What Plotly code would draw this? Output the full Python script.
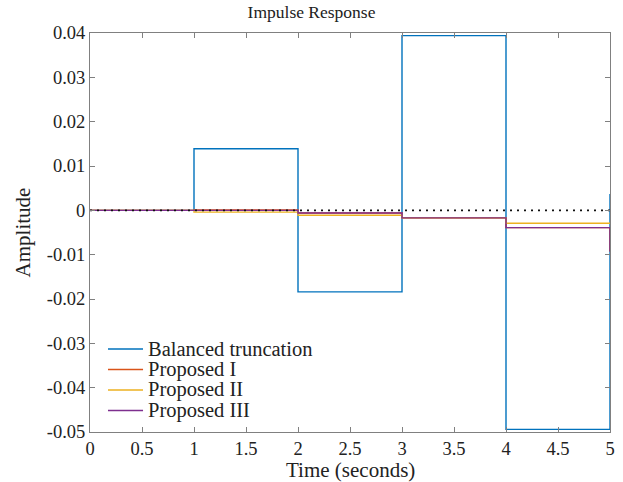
import plotly.graph_objects as go

t = [0, 1, 2, 3, 4, 5]
balanced = [0.0, 0.0139, -0.0184, 0.0394, -0.0494, 0.0037]
proposed1 = [0.0, 0.0001, -0.0006, -0.0017, -0.0039, -0.0093]
proposed2 = [0.0, -0.0004, -0.0011, -0.0017, -0.0029, -0.0031]
proposed3 = [0.0, 0.0000, -0.0006, -0.0017, -0.0039, -0.0093]

x_ticks = [0, 0.5, 1, 1.5, 2, 2.5, 3, 3.5, 4, 4.5, 5]
x_labels = ["0", "0.5", "1", "1.5", "2", "2.5", "3", "3.5", "4", "4.5", "5"]
y_ticks = [-0.05, -0.04, -0.03, -0.02, -0.01, 0, 0.01, 0.02, 0.03, 0.04]
y_labels = ["-0.05", "-0.04", "-0.03", "-0.02", "-0.01", "0", "0.01", "0.02", "0.03", "0.04"]

names = ["Balanced truncation", "Proposed I", "Proposed II", "Proposed III"]
colors = ["#0072BD", "#D95319", "#EDB120", "#7E2F8E"]
series = [balanced, proposed1, proposed2, proposed3]

font = "Liberation Serif"
txt = "#222222"
fig = go.Figure()
for name, col, ys in zip(names, colors, series):
    fig.add_trace(go.Scatter(x=t, y=ys, mode="lines", name=name, showlegend=False,
                             line=dict(color=col, width=1.4, shape="hv")))
fig.add_trace(go.Scatter(x=[0, 5], y=[0, 0], mode="lines", showlegend=False,
                         line=dict(color="#111111", width=1.6, dash="2px,5px")))

# manual legend (matches the compact MATLAB legend spacing)
leg_rows = [0.208, 0.1566, 0.1053, 0.0539]
for name, col, yy in zip(names, colors, leg_rows):
    fig.add_shape(type="line", xref="paper", yref="paper", x0=0.0346, x1=0.102,
                  y0=yy, y1=yy, line=dict(color=col, width=1.4))
    fig.add_annotation(text=name, xref="paper", yref="paper", x=0.108, y=yy,
                       xanchor="left", yanchor="middle", showarrow=False,
                       font=dict(family=font, size=20.5, color=txt))

# axis titles
fig.add_annotation(text="Time (seconds)", xref="paper", yref="paper", x=0.5, y=-0.094,
                   xanchor="center", yanchor="middle", showarrow=False,
                   font=dict(family=font, size=21, color=txt))
fig.add_annotation(text="Amplitude", xref="paper", yref="paper", x=-0.129, y=0.5,
                   xanchor="center", yanchor="middle", showarrow=False, textangle=-90,
                   font=dict(family=font, size=21, color=txt))

axis_common = dict(showline=True, linecolor="#808080", linewidth=1, mirror="ticks",
                   ticks="inside", ticklen=5, tickcolor="#808080", showgrid=False,
                   zeroline=False, automargin=False,
                   tickfont=dict(family=font, size=18.5, color=txt))
fig.update_layout(
    width=623, height=482,
    margin=dict(l=90, r=13, t=33, b=50),
    paper_bgcolor="white", plot_bgcolor="white",
    font=dict(family=font, size=19, color=txt),
    title=dict(text="Impulse Response", x=0.5, xanchor="center", y=0.975, yanchor="middle",
               font=dict(family=font, size=17.5, color=txt)),
    xaxis=dict(range=[0, 5], tickvals=x_ticks, ticktext=x_labels, **axis_common),
    yaxis=dict(range=[-0.05, 0.04], tickvals=y_ticks, ticktext=y_labels, **axis_common),
    showlegend=False,
)
fig.write_html("out.html", config={"displayModeBar": False},
               post_script="document.body.style.margin='0';")
